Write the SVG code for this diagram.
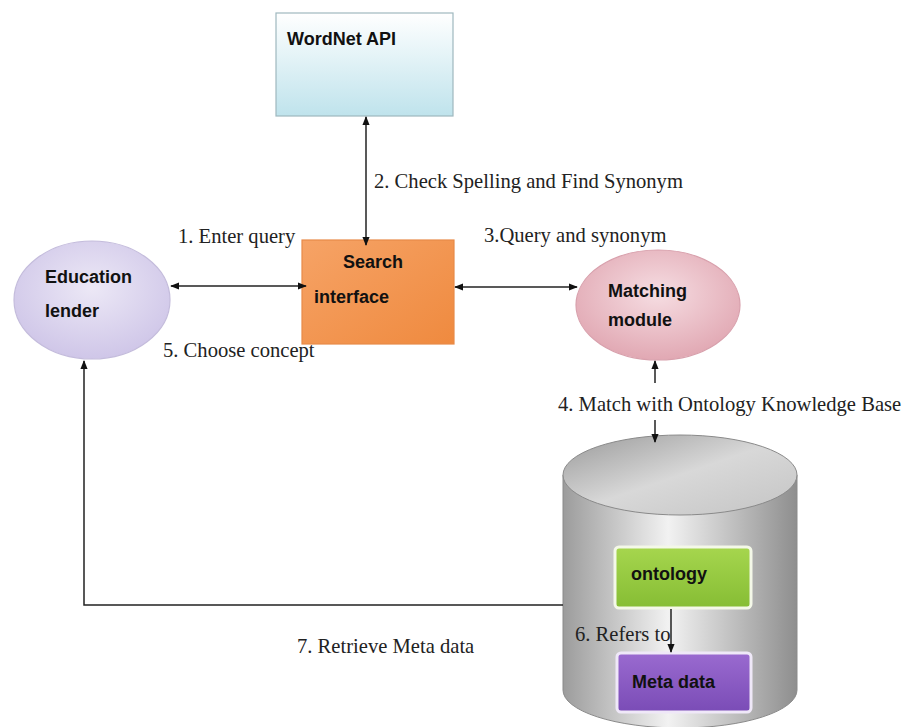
<svg xmlns="http://www.w3.org/2000/svg" width="912" height="727" viewBox="0 0 912 727">
<defs>
<linearGradient id="gWord" x1="0" y1="0" x2="0" y2="1"><stop offset="0" stop-color="#ffffff"/><stop offset="1" stop-color="#bfe3ec"/></linearGradient>
<linearGradient id="gSearch" x1="0" y1="0" x2="1" y2="1"><stop offset="0" stop-color="#f6a366"/><stop offset="1" stop-color="#ef8a3f"/></linearGradient>
<radialGradient id="gEdu" cx="0.5" cy="0.4" r="0.6"><stop offset="0" stop-color="#ece8f6"/><stop offset="1" stop-color="#cfc6e8"/></radialGradient>
<radialGradient id="gMatch" cx="0.5" cy="0.4" r="0.6"><stop offset="0" stop-color="#f6dde2"/><stop offset="1" stop-color="#e1a8b3"/></radialGradient>
<linearGradient id="gCyl" x1="0" y1="0" x2="1" y2="0"><stop offset="0" stop-color="#9c9c9c"/><stop offset="0.45" stop-color="#f2f2f2"/><stop offset="1" stop-color="#8e8e8e"/></linearGradient>
<linearGradient id="gTop" x1="0" y1="0" x2="1" y2="1"><stop offset="0" stop-color="#9a9a9a"/><stop offset="0.5" stop-color="#d8d8d8"/><stop offset="1" stop-color="#c4c4c4"/></linearGradient>
<linearGradient id="gOnt" x1="0" y1="0" x2="0" y2="1"><stop offset="0" stop-color="#a6d64e"/><stop offset="1" stop-color="#86bd34"/></linearGradient>
<linearGradient id="gMeta" x1="0" y1="0" x2="0" y2="1"><stop offset="0" stop-color="#9a6ad0"/><stop offset="1" stop-color="#7a4cb6"/></linearGradient>
<marker id="ah" viewBox="0 0 10 10" refX="9" refY="5" markerWidth="9" markerHeight="9" orient="auto-start-reverse" markerUnits="userSpaceOnUse"><path d="M0,1 L10,5 L0,9 z" fill="#111"/></marker>
</defs>
<style>
.nt{font-family:"Liberation Sans",Arial,sans-serif;font-weight:bold;font-size:18px;fill:#111}
.lb{font-family:"Liberation Serif","Times New Roman",serif;font-size:20.6px;fill:#222}
.cn{stroke:#222;stroke-width:1.5;fill:none}
</style>
<rect width="912" height="727" fill="#ffffff"/>
<g id="wordnet"><rect x="276" y="13" width="177" height="103" fill="url(#gWord)" stroke="#9fb8bf" stroke-width="1.2"/><text class="nt" x="287" y="45">WordNet API</text></g>
<g id="search"><rect x="302" y="240" width="152" height="104" fill="url(#gSearch)" stroke="#e88a48" stroke-width="1.2"/><text class="nt" x="343" y="268">Search</text><text class="nt" x="314" y="303">interface</text></g>
<g id="education"><ellipse cx="92" cy="300" rx="78" ry="59" fill="url(#gEdu)" stroke="#c4bcdc" stroke-width="1.2"/><text class="nt" x="45" y="283">Education</text><text class="nt" x="45" y="317">lender</text></g>
<g id="matching"><ellipse cx="658" cy="305" rx="82" ry="55" fill="url(#gMatch)" stroke="#d8a0ac" stroke-width="1.2"/><text class="nt" x="608" y="297">Matching</text><text class="nt" x="608" y="326">module</text></g>
<g id="knowledgebase">
<path d="M563,475 L563,690 A117,38 0 0 0 797,690 L797,475 Z" fill="url(#gCyl)" stroke="#8a8a8a" stroke-width="1"/>
<ellipse cx="680" cy="475" rx="117" ry="40" fill="url(#gTop)" stroke="#8a8a8a" stroke-width="1"/>
</g>
<g id="ontology"><rect x="615" y="547" width="136" height="61" rx="4" fill="url(#gOnt)" stroke="#f4f8e8" stroke-width="3"/><text class="nt" x="631" y="580">ontology</text></g>
<g id="metadata"><rect x="617" y="653" width="134" height="59" rx="4" fill="url(#gMeta)" stroke="#efe8f8" stroke-width="3"/><text class="nt" x="632" y="688">Meta data</text></g>
<g id="connectors">
<line class="cn" x1="366" y1="117" x2="366" y2="245" marker-start="url(#ah)" marker-end="url(#ah)"/>
<line class="cn" x1="171" y1="286" x2="306" y2="286" marker-start="url(#ah)" marker-end="url(#ah)"/>
<line class="cn" x1="455" y1="287" x2="577" y2="287" marker-start="url(#ah)" marker-end="url(#ah)"/>
<path class="cn" d="M655,383 L655,361" marker-end="url(#ah)"/>
<path class="cn" d="M655,420 L655,442" marker-end="url(#ah)"/>
<line class="cn" x1="671" y1="609" x2="671" y2="652" marker-end="url(#ah)"/>
<path class="cn" d="M563,605 L84,605 L84,361" marker-end="url(#ah)"/>
</g>
<g id="labels">
<text class="lb" x="374" y="188">2. Check Spelling and Find Synonym</text>
<text class="lb" x="178" y="243">1. Enter query</text>
<text class="lb" x="484" y="242">3.Query and synonym</text>
<text class="lb" x="163" y="357">5. Choose concept</text>
<text class="lb" x="558" y="411">4. Match with Ontology Knowledge Base</text>
<text class="lb" x="575" y="641">6. Refers to</text>
<text class="lb" x="297" y="653">7. Retrieve Meta data</text>
</g>
</svg>
